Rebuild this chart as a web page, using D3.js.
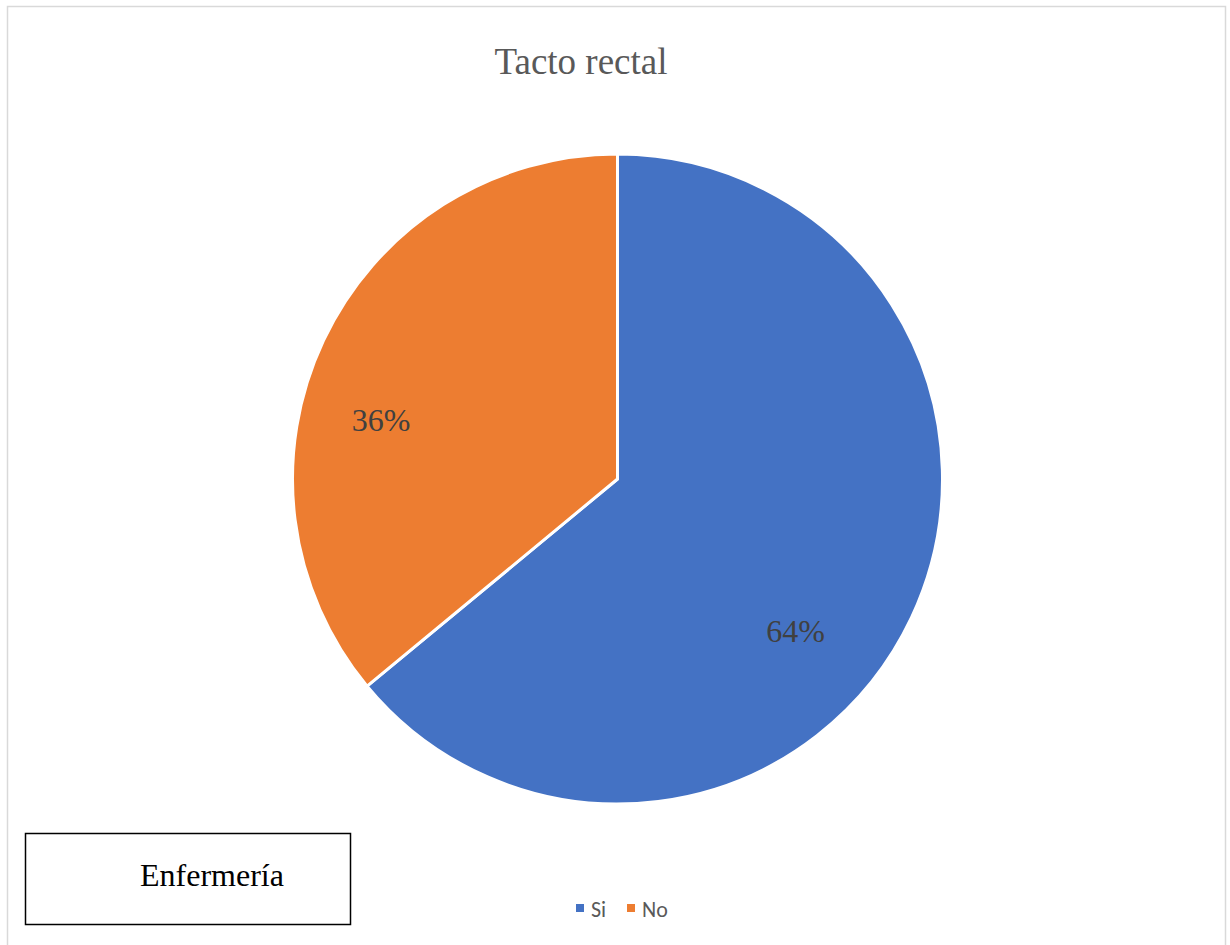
<!DOCTYPE html>
<html>
<head>
<meta charset="utf-8">
<script src="https://cdn.jsdelivr.net/npm/d3@7/dist/d3.min.js"></script>
<style>
  html, body { margin: 0; padding: 0; background: #fff; }
  svg { display: block; }
</style>
</head>
<body>
<div id="chart"></div>
<script>
// Responses to the "Tacto rectal" question
const categories = ["Si", "No"];
const values = [64, 36];
const colors = ["#4472C4", "#ED7D31"];
const title = "Tacto rectal";
const boxLabel = "Enfermería";

const W = 1230, H = 945;
const svg = d3.select("#chart").append("svg")
  .attr("width", W).attr("height", H);

// chart area frame
svg.append("rect")
  .attr("x", 7.5).attr("y", 6.5)
  .attr("width", 1218).attr("height", 960)
  .attr("fill", "#fff")
  .attr("stroke", "#D9D9D9")
  .attr("stroke-width", 1.5);

svg.append("text")
  .attr("x", 581).attr("y", 74)
  .attr("text-anchor", "middle")
  .attr("font-family", "'Liberation Serif', 'Times New Roman', serif")
  .attr("font-size", 37)
  .attr("fill", "#595959")
  .text(title);

const cx = 617.5, cy = 479, r = 325;
const color = d3.scaleOrdinal().domain(categories).range(colors);

const pie = d3.pie().sort(null).value(d => d.value);
const data = categories.map((c, i) => ({ cat: c, value: values[i] }));
const arcs = pie(data);
const arc = d3.arc().innerRadius(0).outerRadius(r);

// best-fit label placement: nudge from the slice mid-angle, radius as fraction of r
const labelNudge = { Si: { dAngle: 15.2, rf: 0.72 }, No: { dAngle: -11.2, rf: 0.75 } };
function labelPos(d) {
  const n = labelNudge[d.data.cat];
  const a = (d.startAngle + d.endAngle) / 2 + n.dAngle * Math.PI / 180;
  const rr = r * n.rf;
  return [Math.sin(a) * rr, -Math.cos(a) * rr];
}

const g = svg.append("g").attr("transform", `translate(${cx},${cy})`);
g.selectAll("path").data(arcs).join("path")
  .attr("d", arc)
  .attr("fill", d => color(d.data.cat))
  .attr("stroke", "#fff")
  .attr("stroke-width", 3)
  .attr("stroke-linejoin", "round");

const total = d3.sum(values);
g.selectAll("text.lbl").data(arcs).join("text")
  .attr("class", "lbl")
  .attr("transform", d => `translate(${labelPos(d)})`)
  .attr("text-anchor", "middle")
  .attr("dominant-baseline", "central")
  .attr("font-family", "'Liberation Serif', 'Times New Roman', serif")
  .attr("font-size", 32)
  .attr("fill", "#404040")
  .text(d => Math.round(d.data.value / total * 100) + "%");

// legend
const legend = svg.append("g").attr("transform", "translate(576, 908)");
const items = legend.selectAll("g").data(categories).join("g")
  .attr("transform", (d, i) => `translate(${i * 51}, 0)`);
items.append("rect")
  .attr("x", 0).attr("y", -4)
  .attr("width", 8).attr("height", 8)
  .attr("fill", d => color(d));
items.append("text")
  .attr("x", 15).attr("y", 1)
  .attr("dominant-baseline", "central")
  .attr("font-family", "Carlito, 'Liberation Sans', Arial, sans-serif")
  .attr("font-size", 22)
  .attr("fill", "#595959")
  .text(d => d);

// boxed caption
svg.append("rect")
  .attr("x", 25.5).attr("y", 833.5)
  .attr("width", 325).attr("height", 91)
  .attr("fill", "#fff")
  .attr("stroke", "#000")
  .attr("stroke-width", 1.5);
svg.append("text")
  .attr("x", 140).attr("y", 886)
  .attr("font-family", "'Liberation Serif', 'Times New Roman', serif")
  .attr("font-size", 32)
  .attr("fill", "#000")
  .text(boxLabel);
</script>
</body>
</html>
